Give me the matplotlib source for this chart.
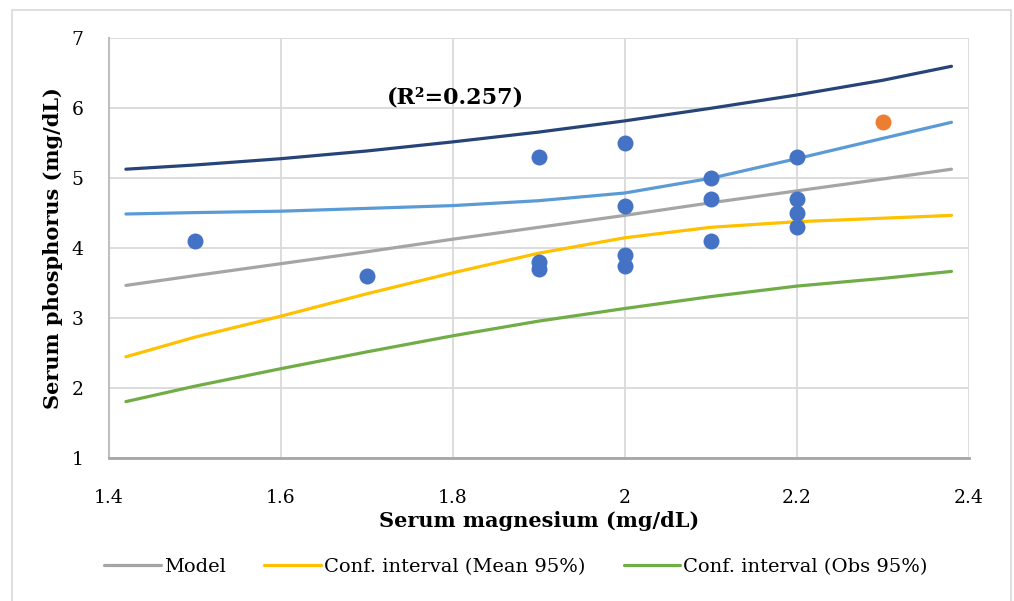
import matplotlib
matplotlib.use("Agg")
from matplotlib import pyplot as plt
from matplotlib.patches import Rectangle

plt.rcParams["font.family"] = ["DejaVu Serif"]

# observed points
mg_obs = [1.5, 1.7, 1.9, 1.9, 1.9, 2.0, 2.0, 2.0, 2.0, 2.1, 2.1, 2.1, 2.2, 2.2, 2.2, 2.2]
p_obs = [4.1, 3.6, 5.3, 3.8, 3.7, 5.5, 4.6, 3.9, 3.75, 5.0, 4.7, 4.1, 5.3, 4.7, 4.5, 4.3]
mg_out = [2.3]
p_out = [5.8]

# fitted curves
mg_fit = [1.42, 1.5, 1.6, 1.7, 1.8, 1.9, 2.0, 2.1, 2.2, 2.3, 2.38]
model = [3.47, 3.61, 3.78, 3.95, 4.13, 4.30, 4.47, 4.65, 4.82, 4.99, 5.13]
mean_low = [2.45, 2.73, 3.03, 3.35, 3.65, 3.93, 4.15, 4.30, 4.38, 4.43, 4.47]
mean_up = [4.49, 4.51, 4.53, 4.57, 4.61, 4.68, 4.79, 5.00, 5.28, 5.57, 5.80]
obs_low = [1.81, 2.03, 2.28, 2.52, 2.75, 2.96, 3.14, 3.31, 3.46, 3.57, 3.67]
obs_up = [5.13, 5.19, 5.28, 5.39, 5.52, 5.66, 5.82, 6.00, 6.19, 6.40, 6.60]

x_ticks = [1.4, 1.6, 1.8, 2.0, 2.2, 2.4]
x_labels = ["1.4", "1.6", "1.8", "2", "2.2", "2.4"]
y_ticks = [1, 2, 3, 4, 5, 6, 7]

fig = plt.figure(figsize=(10.14, 6.01), dpi=100)
fig.patches.append(Rectangle((12 / 1014, -0.01), 999 / 1014, 1 - 10 / 601 + 0.01,
                             transform=fig.transFigure, fill=False,
                             edgecolor="#D9D9D9", linewidth=1.2))
ax = fig.add_axes([0.1072, 0.2374, 0.8481, 0.6989])

lw = 2.3
ax.plot(mg_fit, model, color="#A5A5A5", lw=lw, label="Model", solid_capstyle="round")
ax.plot(mg_fit, mean_low, color="#FFC000", lw=lw, label="Conf. interval (Mean 95%)",
        solid_capstyle="round")
ax.plot(mg_fit, obs_low, color="#70AD47", lw=lw, label="Conf. interval (Obs 95%)",
        solid_capstyle="round")
ax.plot(mg_fit, mean_up, color="#5B9BD5", lw=lw, solid_capstyle="round")
ax.plot(mg_fit, obs_up, color="#264478", lw=lw, solid_capstyle="round")

ax.plot(mg_obs, p_obs, "o", color="#4472C4", ms=11.5, mec="none", zorder=5)
ax.plot(mg_out, p_out, "o", color="#ED7D31", ms=11.5, mec="none", zorder=5)

ax.text(1.803, 6.16, "(R\u00b2=0.257)", fontsize=16, fontweight="bold", ha="center", va="center")

ax.set_xlim(1.4, 2.4)
ax.set_ylim(1, 7)
ax.set_xticks(x_ticks)
ax.set_xticklabels(x_labels)
ax.set_yticks(y_ticks)
ax.tick_params(length=0, labelsize=13.5)
ax.tick_params(axis="y", pad=18)
ax.tick_params(axis="x", pad=22)
ax.grid(True, color="#D9D9D9", lw=1.3)
ax.set_axisbelow(True)
for s in ["top", "right"]:
    ax.spines[s].set_visible(False)
ax.spines["left"].set_color("#BFBFBF")
ax.spines["left"].set_linewidth(1.5)
ax.spines["bottom"].set_color("#A6A6A6")
ax.spines["bottom"].set_linewidth(2)

ax.set_xlabel("Serum magnesium (mg/dL)", fontsize=15, fontweight="bold", labelpad=3)
ax.set_ylabel("Serum phosphorus (mg/dL)", fontsize=15, fontweight="bold", labelpad=6)

ax.legend(loc="upper center", bbox_to_anchor=(0.4736, -0.195), ncol=3, frameon=False,
          fontsize=14, handlelength=2.9, handletextpad=0.15, columnspacing=2.0)

plt.savefig("out.png", dpi=100)
plt.close("all")
